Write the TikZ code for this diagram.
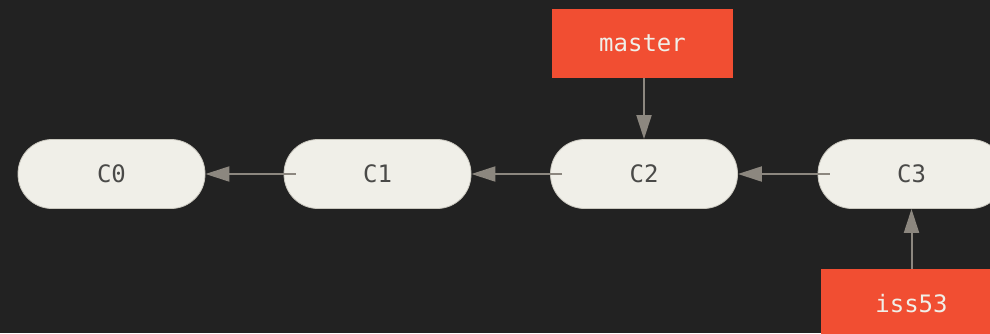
\documentclass[tikz,border=0pt]{standalone}
\usepackage{fontspec}
\setmonofont{DejaVu Sans Mono}
\usetikzlibrary{arrows.meta}
\definecolor{bg}{HTML}{222222}
\definecolor{pill}{HTML}{F0EFE8}
\definecolor{pillline}{HTML}{C9C7BE}
\definecolor{pilltext}{HTML}{4A4A48}
\definecolor{gitred}{HTML}{F14E32}
\definecolor{arrowc}{HTML}{8C877F}
\tikzset{
  commit/.style={rectangle, rounded corners=34pt, fill=pill, draw=pillline, line width=0.8pt,
    minimum width=187pt, minimum height=69pt, inner sep=0pt, text=pilltext,
    font=\ttfamily\fontsize{24}{28}\selectfont},
  branch/.style={rectangle, fill=gitred, minimum width=181pt, minimum height=69pt, inner sep=0pt,
    text=pill, font=\ttfamily\fontsize{24}{28}\selectfont},
  ptr/.style={draw=arrowc, line width=2pt, -{Triangle[length=24pt, width=15pt, fill=arrowc]}}
}
\begin{document}
\begin{tikzpicture}[x=1pt, y=1pt]
\fill[bg] (0,0) rectangle (990,-333);
\useasboundingbox (0,0) rectangle (990,-333);
\clip (0,0) rectangle (990,-333);
\node[commit] (C0) at (111.5,-174) {C0};
\node[commit] (C1) at (377.5,-174) {C1};
\node[commit] (C2) at (644,-174) {C2};
\node[commit] (C3) at (911.5,-174) {C3};
\node[branch] (master) at (642.5,-43.5) {master};
\node[branch] (iss53) at (911.5,-303.5) {iss53};
\draw[ptr] ([xshift=12pt]C1.west) -- (C0.east);
\draw[ptr] ([xshift=12pt]C2.west) -- (C1.east);
\draw[ptr] ([xshift=12pt]C3.west) -- (C2.east);
\draw[ptr] (master.south -| C2.north) -- (C2.north);
\draw[ptr] (iss53.north) -- (C3.south);
\end{tikzpicture}
\end{document}
